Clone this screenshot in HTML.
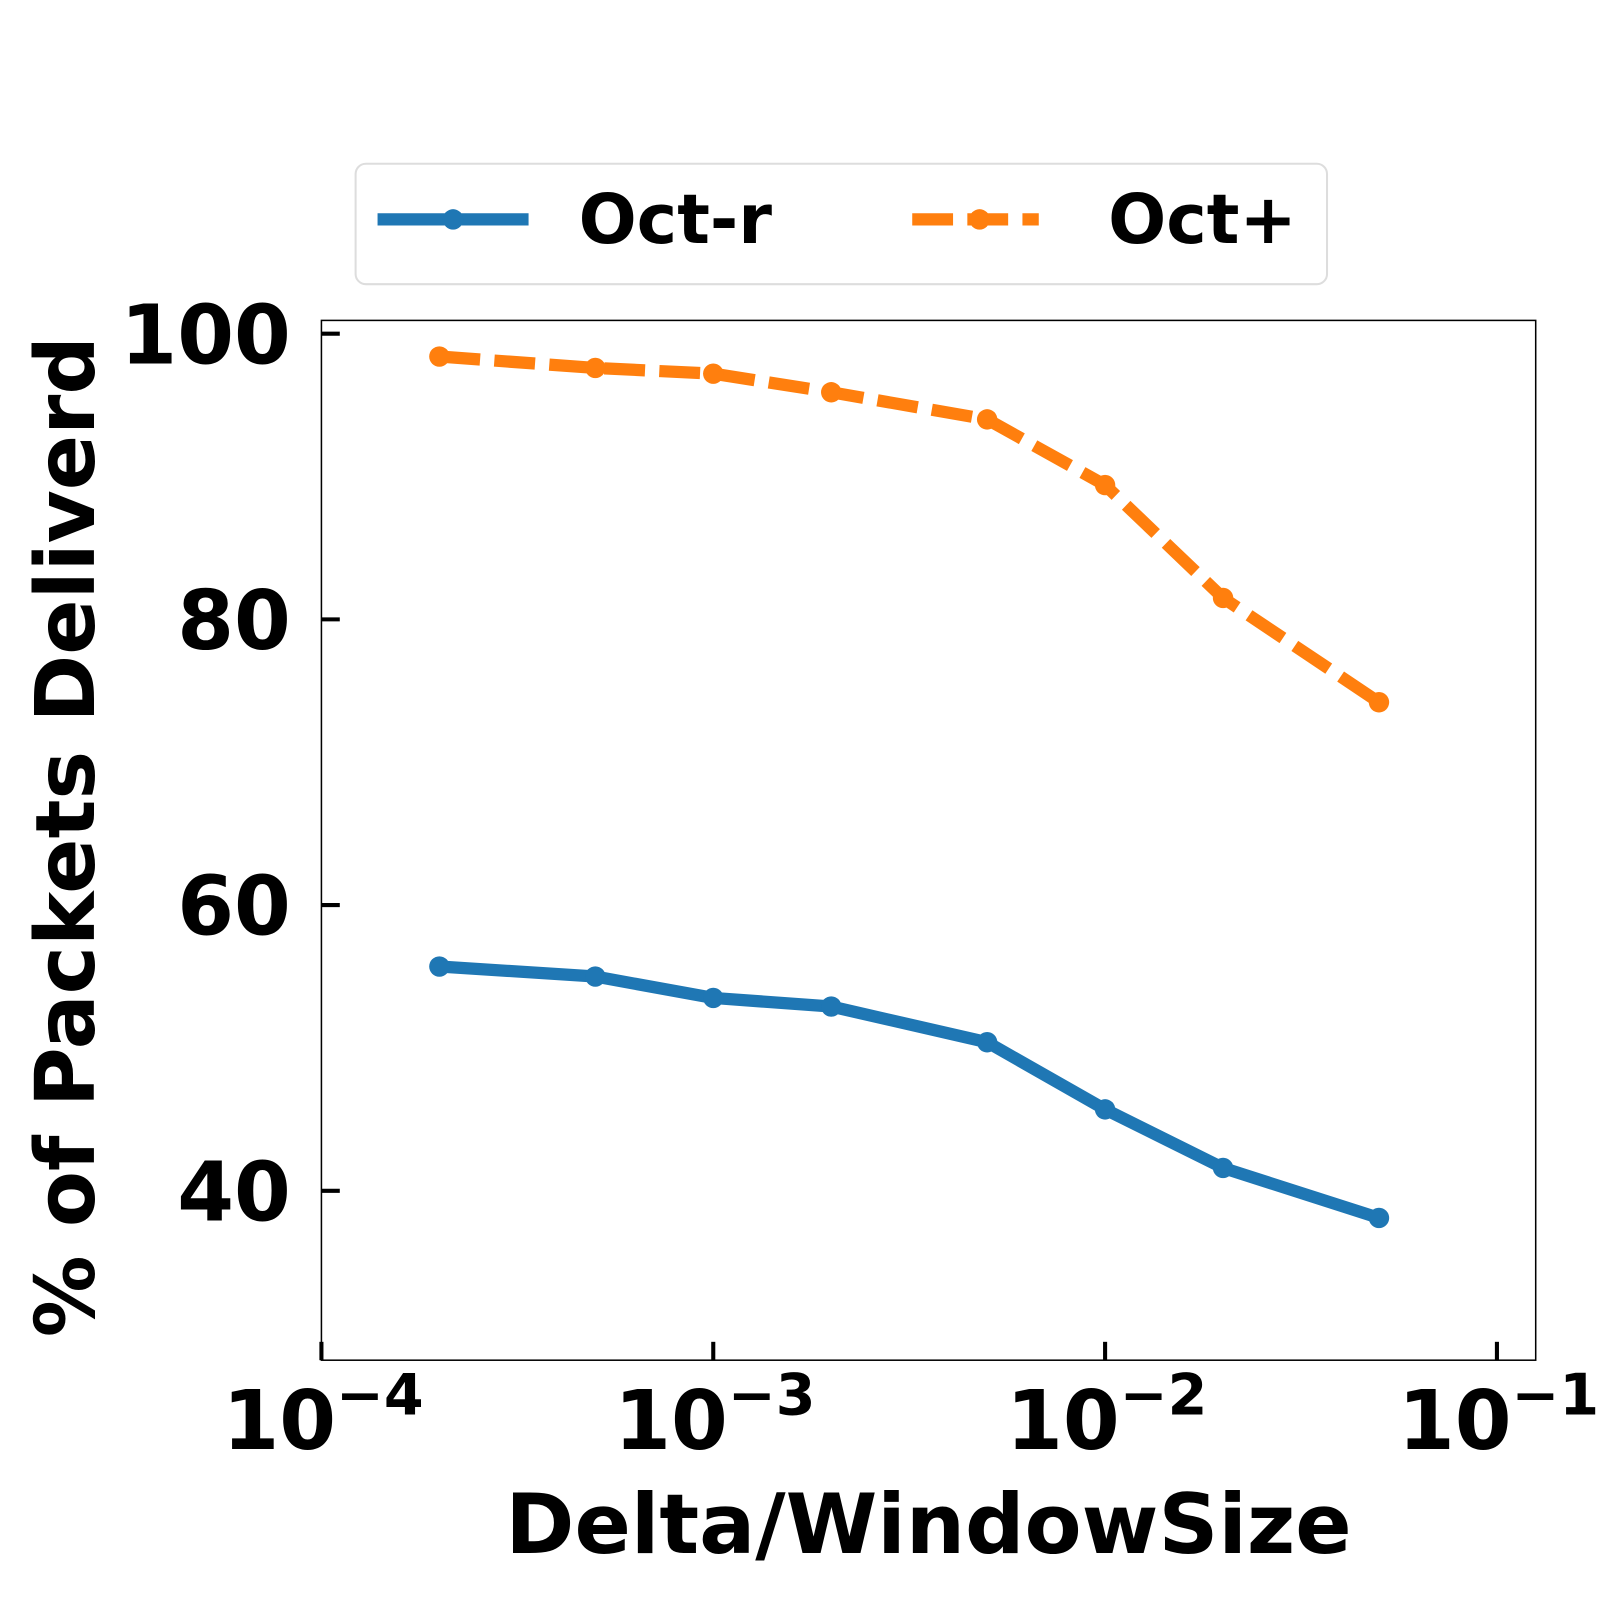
<!DOCTYPE html>
<html><head><meta charset="utf-8">
<style>html,body{margin:0;padding:0;background:#fff}svg{display:block}text{font-family:"DejaVu Sans","Liberation Sans",sans-serif;font-weight:bold;fill:#000}</style>
</head><body>
<svg id="chart" width="1600" height="1600" viewBox="0 0 1600 1600" xmlns="http://www.w3.org/2000/svg">
<rect x="0" y="0" width="1600" height="1600" fill="#fff"/>
<g transform="scale(1.0204)">
<g id="plot"></g>
<g>
<rect x="348.5" y="160.5" width="952" height="118" rx="10" fill="#fff" stroke="#ddd" stroke-width="2"/>
<g>
<line x1="370" y1="215" x2="518" y2="215" stroke="#1f77b4" stroke-width="12"/>
<circle cx="444" cy="215" r="10" fill="#1f77b4"/>
<text x="567" y="238" font-size="67">Oct-r</text>
</g>
<g>
<line x1="894" y1="215" x2="1018" y2="215" stroke="#ff7f0e" stroke-width="12" stroke-dasharray="40,14"/>
<circle cx="960" cy="215" r="10" fill="#ff7f0e"/>
<text x="1086" y="238" font-size="67">Oct+</text>
</g>
</g>
<text x="910" y="1522" font-size="81.5" text-anchor="middle">Delta/WindowSize</text>
<text transform="translate(92,820) rotate(-90)" font-size="80" text-anchor="middle">% of Packets Deliverd</text>
</g>
</svg>
<script>
const xValues = [0.0002, 0.0005, 0.001, 0.002, 0.005, 0.01, 0.02, 0.05];
const octR = [55.7, 55.0, 53.5, 52.9, 50.4, 45.7, 41.6, 38.1];
const octPlus = [98.4, 97.6, 97.2, 95.9, 94.0, 89.4, 81.5, 74.2];
const yTicks = [40, 60, 80, 100];
const xTickExps = [-4, -3, -2, -1];

const L = 315, R = 1505, T = 314, B = 1333;
function xs(v){ return 315 + (Math.log10(v) + 4) * 384; }
function ys(v){ return 327 + (100 - v) * 14; }
const NS = 'http://www.w3.org/2000/svg';
const g = document.getElementById('plot');
function mk(tag, attrs){ const e = document.createElementNS(NS, tag); for (const k in attrs) e.setAttribute(k, attrs[k]); return e; }

const frame = mk('rect', {x:L, y:T, width:R-L, height:B-T, fill:'none', stroke:'#000', 'stroke-width':1.5});


g.appendChild(frame);

yTicks.forEach(t => {
  const y = ys(t);
  const tk = mk('line', {x1:L, x2:L+18, y1:y, y2:y, stroke:'#000', 'stroke-width':4});
  
  
  g.appendChild(tk);
  const lb = mk('text', {x:285, y:y+29, 'font-size':80, 'text-anchor':'end'});
  lb.textContent = String(t);
  
  
  g.appendChild(lb);
});

xTickExps.forEach(e => {
  const x = xs(Math.pow(10, e));
  const tk = mk('line', {x1:x, x2:x, y1:B, y2:B-18, stroke:'#000', 'stroke-width':4});
  
  
  g.appendChild(tk);
  const lb = mk('text', {x:x-97, y:1420, 'font-size':80});
  const base = mk('tspan', {}); base.textContent = '10';
  const sup = mk('tspan', {dy:-34, 'font-size':56}); sup.textContent = '\u2212' + Math.abs(e);
  lb.appendChild(base); lb.appendChild(sup);
  
  
  g.appendChild(lb);
});

function series(vals, color, dash, name){
  const pts = vals.map((v,i) => xs(xValues[i]) + ',' + ys(v)).join(' ');
  const pl = mk('polyline', {points:pts, fill:'none', stroke:color, 'stroke-width':12, 'stroke-linejoin':'round'});
  if (dash) pl.setAttribute('stroke-dasharray', dash);
  
  
  g.appendChild(pl);
  vals.forEach((v,i) => {
    const c = mk('circle', {cx:xs(xValues[i]), cy:ys(v), r:10, fill:color});
    
    
    g.appendChild(c);
  });
}
series(octR, '#1f77b4', null, 'oct-r');
series(octPlus, '#ff7f0e', '40,14', 'oct-plus');
</script>
</body></html>
